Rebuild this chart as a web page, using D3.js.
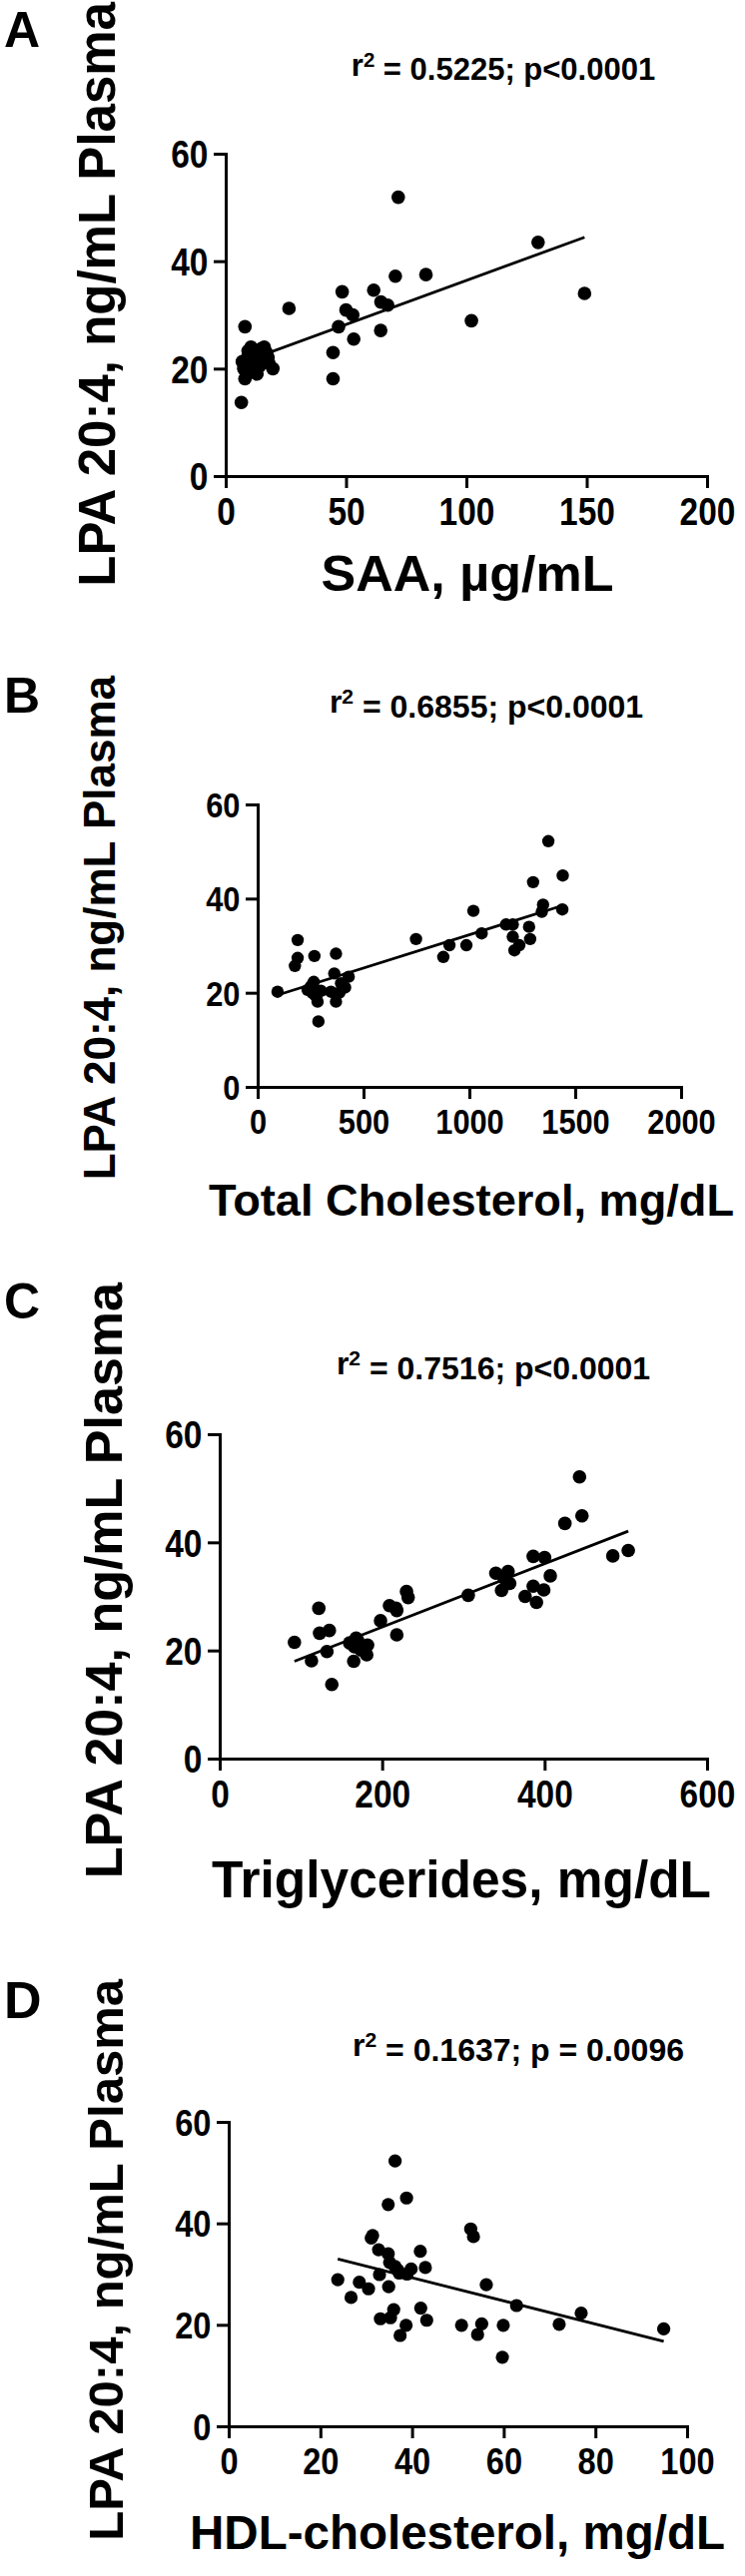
<!DOCTYPE html>
<html><head><meta charset="utf-8">
<script src="https://cdn.jsdelivr.net/npm/d3@7"></script>
<style>
html,body{margin:0;padding:0;background:#fff;}
svg text{font-family:"Liberation Sans",Arial,Helvetica,sans-serif;font-weight:bold;fill:#000;}
</style></head><body>
<svg id="fig" width="746" height="2581"></svg>
<script>
// ---------------- data ----------------
const panelLetters = ["A", "B", "C", "D"];
const yTitle = "LPA 20:4, ng/mL Plasma";
const xTitles = ["SAA, µg/mL", "Total Cholesterol, mg/dL", "Triglycerides, mg/dL", "HDL-cholesterol, mg/dL"];
const r2Values = ["0.5225", "0.6855", "0.7516", "0.1637"];
const pTexts = ["p<0.0001", "p<0.0001", "p<0.0001", "p = 0.0096"];
const xMax = [200, 2000, 600, 100];
const xTicks = [[0, 50, 100, 150, 200], [0, 500, 1000, 1500, 2000], [0, 200, 400, 600], [0, 20, 40, 60, 80, 100]];
const yTicks = [0, 20, 40, 60];
const yMax = 60;

// Panel A: SAA (µg/mL) vs LPA 20:4
const saaX = [71.7,129.8,149.1,102.1,83.2,70.5,61.5,64.5,67.3,48.4,50.0,52.8,46.9,53.2,64.4,44.6,44.6,26.3,8.0,6.5,8.0,9.3,6.9,12.0,14.8,17.6,19.6,11.3,14.1,10.0,12.7,16.9,12.0,15.0,9.0,13.0,16.0,18.0,7.5,10.5];
const saaY = [51.9,43.5,34.0,28.9,37.5,37.2,34.6,32.4,31.8,34.3,30.9,30.0,27.8,25.5,27.1,23.0,18.1,31.2,27.8,13.7,18.1,23.3,21.3,19.3,23.7,22.1,20.0,21.3,20.5,19.9,22.4,23.0,21.0,21.5,22.0,19.0,24.0,21.0,20.0,24.0];
// Panel B: Total cholesterol (mg/dL)
const tcX = [1373,1441,1301,1348,1439,1342,1019,1173,1205,1282,1205,1287,1236,1213,1058,986,906,877,748,189,189,176,268,370,94,265,236,260,283,287,362,430,413,386,346,370,252,299,394,276];
const tcY = [52.2,44.9,43.5,38.7,37.7,37.2,37.4,34.5,34.5,34.0,31.9,31.4,30.1,29.0,32.6,30.1,30.1,27.6,31.4,31.2,27.4,25.7,27.8,28.3,20.2,22.3,20.6,19.9,18.1,13.9,24.1,23.4,21.1,20.0,20.2,18.1,21.4,20.4,22.0,19.2];
// Panel C: Triglycerides (mg/dL)
const tgX = [443,446,425,484,503,386,400,407,340,355,357,347,386,399,376,390,306,230,232,209,218,198,218,122,123,135,92,113,132,138,168,166,165,182,181,174,160,170,217,350];
const tgY = [52.1,44.9,43.5,37.5,38.5,37.4,37.2,33.8,34.3,34.6,32.4,31.1,31.9,31.2,30.0,28.9,30.2,30.9,29.8,28.3,27.4,25.5,22.9,27.8,23.2,23.7,21.5,18.1,19.8,13.7,22.3,20.7,18.0,21.0,19.2,20.1,21.4,21.8,27.8,33.4];
// Panel D: HDL-cholesterol (mg/dL)
const hdlX = [36.3,38.8,34.8,52.8,53.4,31.4,31.1,32.7,34.8,41.8,35.1,36.3,39.8,42.9,37.2,38.9,32.9,23.8,28.5,30.5,34.9,26.7,56.2,62.8,76.9,72.1,94.9,59.9,59.7,50.8,55.2,54.3,36.0,33.1,35.3,38.7,37.4,41.9,43.2,36.9];
const hdlY = [52.3,45.0,43.7,38.9,37.4,37.6,37.1,34.8,34.0,34.5,32.3,31.5,31.0,31.3,30.2,30.0,29.9,28.9,28.4,27.1,27.5,25.4,27.9,23.8,22.3,20.1,19.2,19.9,13.6,19.9,20.2,18.1,23.0,21.2,21.4,19.9,17.9,23.3,20.9,30.8];

// linear fits
const fitIntercept = [20.0, 18.17, 12.6, 38.4];
const fitSlope = [0.164, 0.01413, 0.0586, -0.228];

const seriesX = [saaX, tcX, tgX, hdlX];
const seriesY = [saaY, tcY, tgY, hdlY];

// ---------------- layout ----------------
const layout = [
  {x0:226, x1:708, yTop:154, yBot:477, letterY:47, letterSize:50, ylabX:115, ylabTop:2, ylabSize:51, annX:504, annY:76, annSize:31, xtX:468, xtY:592, xtSize:50, xtLen:293, tickFont:38, r:6.8},
  {x0:258, x1:682, yTop:806, yBot:1089, letterY:714, letterSize:50, ylabX:115, ylabTop:677, ylabSize:44, annX:487, annY:714, annSize:32, xtX:472, xtY:1218, xtSize:45, xtLen:526, tickFont:35, r:6.2},
  {x0:220, x1:708, yTop:1437, yBot:1762, letterY:1321, letterSize:50, ylabX:122, ylabTop:1285, ylabSize:52, annX:494, annY:1377, annSize:32, xtX:462, xtY:1901, xtSize:51, xtLen:500, tickFont:38, r:6.8},
  {x0:229, x1:688, yTop:2126, yBot:2431, letterY:2022, letterSize:52, ylabX:123, ylabTop:1983, ylabSize:49, annX:519, annY:2060, annSize:32, xtX:458, xtY:2554, xtSize:48, xtLen:536, tickFont:37, r:6.6}
];
const condense = 0.88;

const svg = d3.select("#fig");

panelLetters.forEach((letter, i) => {
  const L = layout[i];
  const g = svg.append("g");
  const x = d3.scaleLinear().domain([0, xMax[i]]).range([L.x0, L.x1]);
  const y = d3.scaleLinear().domain([0, yMax]).range([L.yBot, L.yTop]);

  // panel letter
  g.append("text").attr("x", 4).attr("y", L.letterY)
    .style("font-size", L.letterSize + "px").text(letter);

  // y title
  g.append("text")
    .attr("transform", `translate(${L.ylabX},${L.ylabTop}) rotate(-90)`)
    .attr("text-anchor", "end")
    .style("font-size", L.ylabSize + "px")
    .text(yTitle);

  // annotation
  const ann = g.append("text").attr("x", L.annX).attr("y", L.annY)
    .attr("text-anchor", "middle").style("font-size", L.annSize + "px");
  ann.append("tspan").text("r");
  ann.append("tspan").attr("dy", "-0.42em").style("font-size", "0.66em").text("2");
  ann.append("tspan").attr("dy", "0.42em").text(" = " + r2Values[i] + "; " + pTexts[i]);

  // axes
  const xa = g.append("g").attr("transform", `translate(0,${L.yBot})`)
    .call(d3.axisBottom(x).tickValues(xTicks[i]).tickFormat(d3.format("d")).tickSize(12).tickSizeOuter(0).tickPadding(10));
  const ya = g.append("g").attr("transform", `translate(${L.x0},0)`)
    .call(d3.axisLeft(y).tickValues(yTicks).tickFormat(d3.format("d")).tickSize(12).tickSizeOuter(0).tickPadding(8));
  [xa, ya].forEach(a => {
    a.select(".domain").attr("stroke", "#000").attr("stroke-width", 3).attr("stroke-linecap", "square");
    a.selectAll(".tick line").attr("stroke", "#000").attr("stroke-width", 3);
    a.selectAll(".tick text").attr("fill", "#000")
      .attr("transform", `scale(${condense},1)`)
      .style("font-size", L.tickFont + "px").style("font-family", '"Liberation Sans",Arial,sans-serif').style("font-weight", "bold");
  });
  ya.selectAll(".tick text").attr("dy", "0.36em");

  // x title
  g.append("text").attr("x", L.xtX).attr("y", L.xtY)
    .attr("text-anchor", "middle").style("font-size", L.xtSize + "px")
    .attr("textLength", L.xtLen).attr("lengthAdjust", "spacingAndGlyphs")
    .text(xTitles[i]);

  // regression line
  const xs = seriesX[i];
  const xLo = d3.min(xs), xHi = d3.max(xs);
  g.append("line")
    .attr("x1", x(xLo)).attr("y1", y(fitIntercept[i] + fitSlope[i] * xLo))
    .attr("x2", x(xHi)).attr("y2", y(fitIntercept[i] + fitSlope[i] * xHi))
    .attr("stroke", "#000").attr("stroke-width", 2.8);

  // points
  g.append("g").selectAll("circle")
    .data(xs.map((v, j) => [v, seriesY[i][j]]))
    .join("circle")
    .attr("cx", d => x(d[0])).attr("cy", d => y(d[1]))
    .attr("r", L.r).attr("fill", "#000");
});
</script>
</body></html>
